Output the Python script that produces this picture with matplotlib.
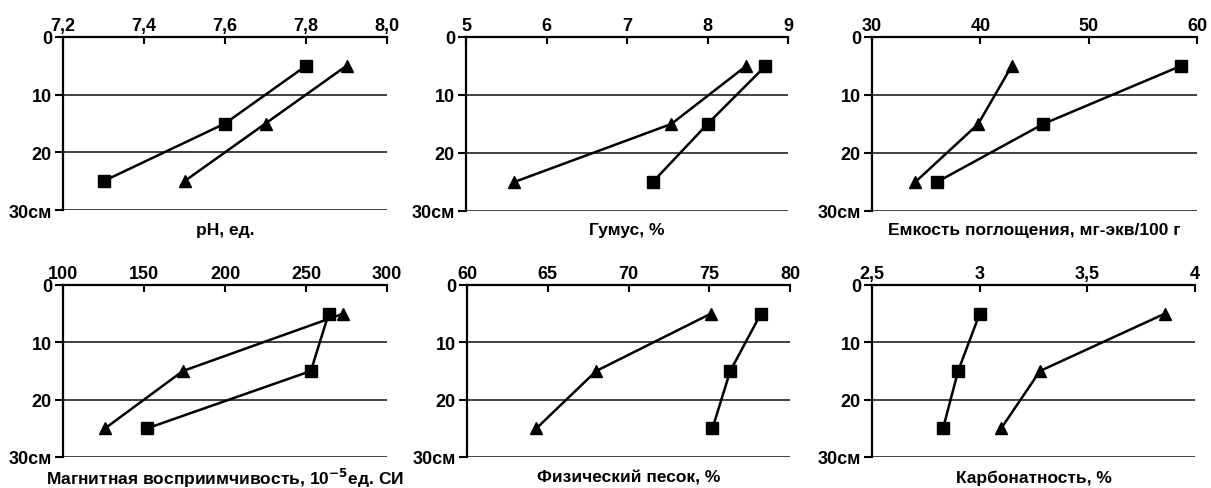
import matplotlib.pyplot as plt

plt.rcParams['font.family'] = ['Liberation Sans', 'DejaVu Sans']
plt.rcParams['font.weight'] = 'bold'

depth = [5, 15, 25]

# values for squares (site 1) and triangles (site 2)
ph_sq = [7.8, 7.6, 7.3]
ph_tr = [7.9, 7.7, 7.5]
hum_sq = [8.72, 8.0, 7.32]
hum_tr = [8.48, 7.55, 5.6]
cec_sq = [58.5, 45.8, 36.0]
cec_tr = [42.9, 39.8, 34.0]
mag_sq = [264, 253, 152]
mag_tr = [273, 174, 126]
sand_sq = [78.2, 76.3, 75.2]
sand_tr = [75.1, 68.0, 64.3]
carb_sq = [3.0, 2.9, 2.83]
carb_tr = [3.86, 3.28, 3.1]

titles = ['pH, ед.', 'Гумус, %', 'Емкость поглощения, мг-экв/100 г',
          r'Магнитная восприимчивость, 10$^{\mathbf{-5}}$ед. СИ',
          'Физический песок, %', 'Карбонатность, %']
xticks = [[7.2, 7.4, 7.6, 7.8, 8.0], [5, 6, 7, 8, 9], [30, 40, 50, 60],
          [100, 150, 200, 250, 300], [60, 65, 70, 75, 80], [2.5, 3, 3.5, 4]]
xlabels = [['7,2', '7,4', '7,6', '7,8', '8,0'], ['5', '6', '7', '8', '9'],
           ['30', '40', '50', '60'], ['100', '150', '200', '250', '300'],
           ['60', '65', '70', '75', '80'], ['2,5', '3', '3,5', '4']]
squares = [ph_sq, hum_sq, cec_sq, mag_sq, sand_sq, carb_sq]
triangles = [ph_tr, hum_tr, cec_tr, mag_tr, sand_tr, carb_tr]

W, H = 1211, 489
fig = plt.figure(figsize=(W / 100, H / 100), dpi=100)

# axes boxes in pixels: left, right, top, bottom
boxes = [(63, 387, 38, 211), (466, 788, 38, 212), (872, 1197, 38, 212),
         (63, 387, 286, 458), (467, 790, 286, 458), (872, 1195, 286, 458)]
label_y = [231, 231, 231, 478, 478, 478]

for i in range(6):
    l, r, t, b = boxes[i]
    ax = fig.add_axes([l / W, 1 - b / H, (r - l) / W, (b - t) / H])
    ax.plot(squares[i], depth, '-s', color='black', lw=1.8, ms=8)
    ax.plot(triangles[i], depth, '-^', color='black', lw=1.8, ms=9)
    ax.set_xlim(xticks[i][0], xticks[i][-1])
    ax.set_ylim(30, 0)
    ax.set_xticks(xticks[i])
    ax.set_xticklabels(xlabels[i], fontsize=13, fontweight='bold')
    ax.xaxis.tick_top()
    ax.tick_params(axis='x', direction='in', length=5, width=1.5, pad=2)
    ax.set_yticks([0, 10, 20, 30])
    ax.set_yticklabels(['0', '10', '20', '30см'], fontsize=13, fontweight='bold')
    ax.tick_params(axis='y', direction='out', length=6, width=1.5, pad=2)
    ax.yaxis.grid(True, color='#333333', lw=1.3)
    ax.set_axisbelow(True)
    for s in ['right', 'bottom']:
        ax.spines[s].set_visible(False)
    ax.spines['top'].set_linewidth(1.6)
    ax.spines['left'].set_linewidth(1.6)
    fig.text((l + r) / 2 / W, 1 - label_y[i] / H, titles[i], fontsize=12.5,
             fontweight='bold', ha='center', va='center')

fig.savefig('out.png', dpi=100)
